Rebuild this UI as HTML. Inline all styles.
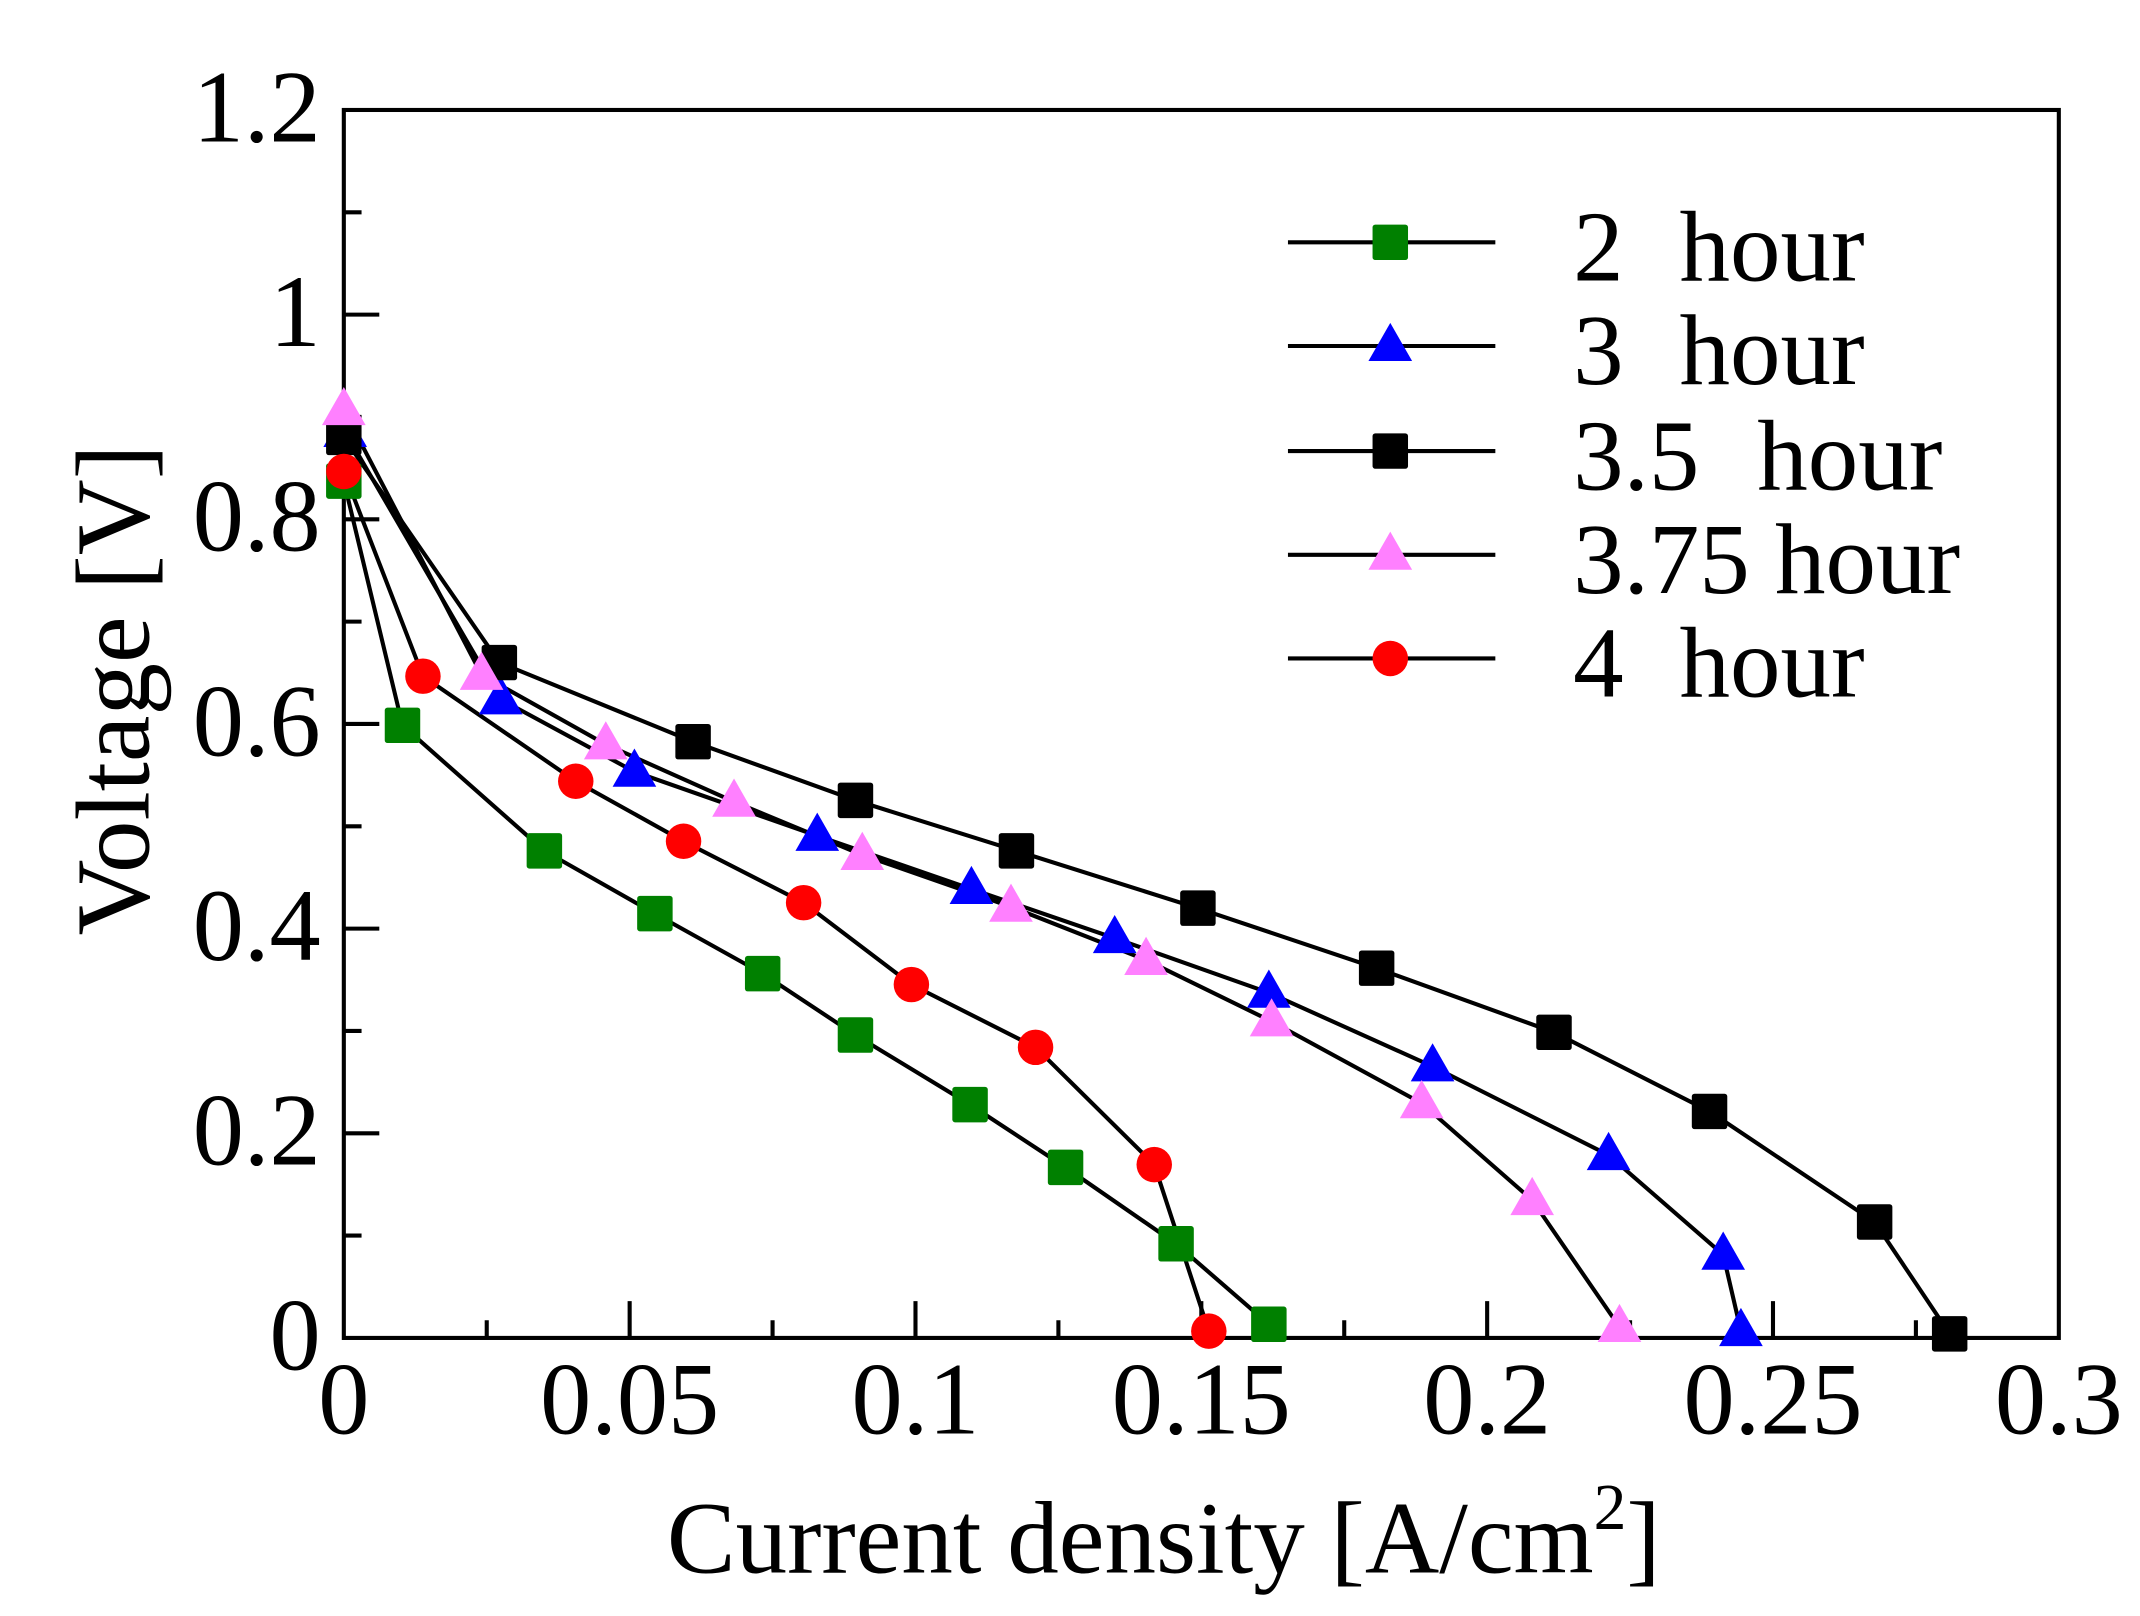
<!DOCTYPE html>
<html><head><meta charset="utf-8"><style>html,body{margin:0;padding:0;background:#fff}svg{display:block}</style></head><body>
<svg width="2140" height="1616" viewBox="-1 -0.6 1568.5 1184.4" preserveAspectRatio="none" xmlns="http://www.w3.org/2000/svg" font-family="Liberation Serif, serif">
<g stroke="#000" stroke-width="3" fill="none">
<rect x="251" y="80" width="1257" height="900"/>
<path d="M251 905h13M251 830h26M251 755h13M251 680h26M251 605h13M251 530h26M251 455h13M251 380h26M251 305h13M251 230h26M251 155h13"/>
<path d="M355.75 980v-13M460.5 980v-27M565.25 980v-13M670 980v-27M774.75 980v-13M879.5 980v-27M984.25 980v-13M1089 980v-27M1193.75 980v-13M1298.5 980v-27M1403.25 980v-13"/>
</g>
<g font-size="75" text-anchor="end">
<text x="234" y="103">1.2</text><text x="234" y="253">1</text><text x="234" y="403">0.8</text><text x="234" y="553">0.6</text><text x="234" y="703">0.4</text><text x="234" y="853">0.2</text><text x="234" y="1003">0</text>
</g>
<g font-size="75" text-anchor="middle">
<text x="251" y="1050">0</text><text x="460.5" y="1050">0.05</text><text x="670" y="1050">0.1</text><text x="879.5" y="1050">0.15</text><text x="1089" y="1050">0.2</text><text x="1298.5" y="1050">0.25</text><text x="1508" y="1050">0.3</text>
</g>
<text x="852" y="1152" font-size="75.5" text-anchor="middle">Current density [A/cm<tspan font-size="48" dy="-32">2</tspan><tspan dy="32">]</tspan></text>
<text transform="translate(108,505) rotate(-90)" font-size="77" text-anchor="middle">Voltage [V]</text>
<g stroke="#000" stroke-width="3" fill="none">
<polyline points="251,352 294,531 398,623 479,669 558,713 626,758 710,809 780,855 861,911 929,970"/>
<polyline points="252,316 366,512 464,565 598,612 711,651 816,687 929,727 1049,781 1178,846 1262,919 1275,975"/>
<polyline points="251,320 365,485 507,543 626,586 744,623 877,665 1008,709 1138,756 1252,814 1373,895 1428,977"/>
<polyline points="251,300 352,494 443,545 537,587 631,626 740,664 839,703 931,748 1041,808 1122,879 1186,972"/>
<polyline points="251,345 309,495 421,572 500,616 588,661 667,721 758,767 845,853 885,975"/>
<path d="M943 177h152M943 253h152M943 330h152M943 406h152M943 482h152"/>
</g>
<defs>
<rect id="sq" x="-13" y="-13" width="26" height="26" rx="2"/>
<path id="tr" d="M0 -17L16 11H-16Z"/>
<circle id="ci" r="13"/>
</defs>
<g fill="#008000">
<use href="#sq" x="251" y="352"/><use href="#sq" x="294" y="531"/><use href="#sq" x="398" y="623"/><use href="#sq" x="479" y="669"/><use href="#sq" x="558" y="713"/><use href="#sq" x="626" y="758"/><use href="#sq" x="710" y="809"/><use href="#sq" x="780" y="855"/><use href="#sq" x="861" y="911"/><use href="#sq" x="929" y="970"/><use href="#sq" x="1018" y="177"/>
</g>
<g fill="#0000ff">
<use href="#tr" x="252" y="316"/><use href="#tr" x="366" y="512"/><use href="#tr" x="464" y="565"/><use href="#tr" x="598" y="612"/><use href="#tr" x="711" y="651"/><use href="#tr" x="816" y="687"/><use href="#tr" x="929" y="727"/><use href="#tr" x="1049" y="781"/><use href="#tr" x="1178" y="846"/><use href="#tr" x="1262" y="919"/><use href="#tr" x="1275" y="975"/><use href="#tr" x="1018" y="253"/>
</g>
<g fill="#000">
<use href="#sq" x="251" y="320"/><use href="#sq" x="365" y="485"/><use href="#sq" x="507" y="543"/><use href="#sq" x="626" y="586"/><use href="#sq" x="744" y="623"/><use href="#sq" x="877" y="665"/><use href="#sq" x="1008" y="709"/><use href="#sq" x="1138" y="756"/><use href="#sq" x="1252" y="814"/><use href="#sq" x="1373" y="895"/><use href="#sq" x="1428" y="977"/><use href="#sq" x="1018" y="330"/>
</g>
<g fill="#ff80ff">
<use href="#tr" x="251" y="300"/><use href="#tr" x="352" y="494"/><use href="#tr" x="443" y="545"/><use href="#tr" x="537" y="587"/><use href="#tr" x="631" y="626"/><use href="#tr" x="740" y="664"/><use href="#tr" x="839" y="703"/><use href="#tr" x="931" y="748"/><use href="#tr" x="1041" y="808"/><use href="#tr" x="1122" y="879"/><use href="#tr" x="1186" y="972"/><use href="#tr" x="1018" y="406"/>
</g>
<g fill="#ff0000">
<use href="#ci" x="251" y="345"/><use href="#ci" x="309" y="495"/><use href="#ci" x="421" y="572"/><use href="#ci" x="500" y="616"/><use href="#ci" x="588" y="661"/><use href="#ci" x="667" y="721"/><use href="#ci" x="758" y="767"/><use href="#ci" x="845" y="853"/><use href="#ci" x="885" y="975"/><use href="#ci" x="1018" y="482"/>
</g>
<g font-size="74">
<text x="1152" y="205">2</text><text x="1230" y="205">hour</text>
<text x="1152" y="281">3</text><text x="1230" y="281">hour</text>
<text x="1152" y="358">3.5</text><text x="1287" y="358">hour</text>
<text x="1152" y="434">3.75</text><text x="1300" y="434">hour</text>
<text x="1152" y="510">4</text><text x="1230" y="510">hour</text>
</g>
</svg>
</body></html>
